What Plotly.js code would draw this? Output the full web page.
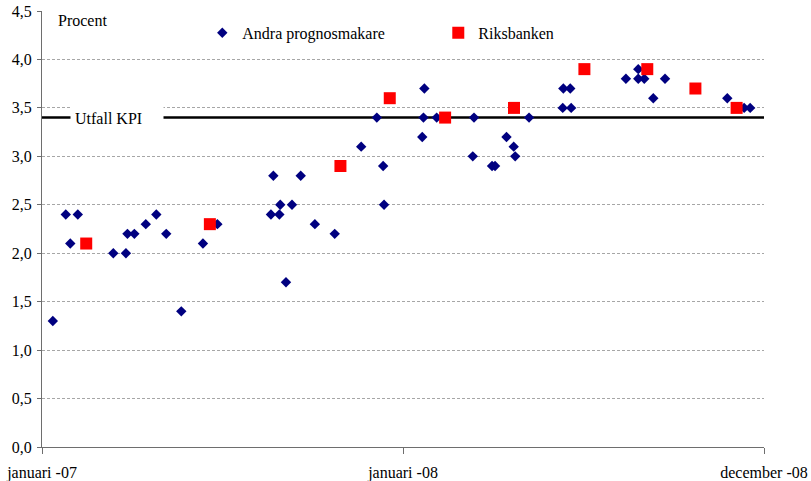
<!DOCTYPE html>
<html>
<head>
<meta charset="utf-8">
<script src="https://cdn.plot.ly/plotly-3.0.1.min.js"></script>
<style>
  html, body { margin: 0; padding: 0; background: #fff; }
  #chart { width: 811px; height: 481px; }
</style>
</head>
<body>
<div id="chart"></div>
<script>
// Forecast date, in months after January 2007 (0 = januari -07, 12 = januari -08, 24 = december -08)
const andraMonth = [0.36, 0.79, 0.94, 1.19, 2.37, 2.79, 2.84, 3.07, 3.45, 3.80, 4.13, 4.63,
  5.35, 5.83, 7.61, 7.69, 7.89, 7.92, 8.11, 8.31, 8.60, 9.07, 9.73, 10.61, 11.13, 11.34,
  11.37, 12.71, 12.68, 12.64, 13.12, 14.36, 14.32, 14.96, 15.06, 15.44, 15.68, 15.73, 16.19,
  17.33, 17.56, 17.31, 17.59, 19.41, 19.82, 19.82, 20.02, 20.32, 20.71, 22.78, 23.34, 23.54];
// Other forecasters' KPI forecast for 2008, percent
const andraValue = [1.3, 2.4, 2.1, 2.4, 2.0, 2.0, 2.2, 2.2, 2.3, 2.4, 2.2, 1.4,
  2.1, 2.3, 2.4, 2.8, 2.4, 2.5, 1.7, 2.5, 2.8, 2.3, 2.2, 3.1, 3.4, 2.9,
  2.5, 3.7, 3.4, 3.2, 3.4, 3.4, 3.0, 2.9, 2.9, 3.2, 3.1, 3.0, 3.4,
  3.7, 3.7, 3.5, 3.5, 3.8, 3.9, 3.8, 3.8, 3.6, 3.8, 3.6, 3.5, 3.5];

const riksMonth = [1.47, 5.58, 9.92, 11.56, 13.40, 15.69, 18.03, 20.12, 21.72, 23.09];
const riksValue = [2.1, 2.3, 2.9, 3.6, 3.4, 3.5, 3.9, 3.9, 3.7, 3.5];

// Actual KPI outcome
const utfallKPI = 3.4;

const xTickVals = [0, 12, 24];
const xTickText = ['januari -07', 'januari -08', 'december -08'];
const yTickVals = [0, 0.5, 1, 1.5, 2, 2.5, 3, 3.5, 4, 4.5];

const serif = 'Liberation Serif';

const traces = [
  {
    type: 'scatter', mode: 'markers', name: 'Andra prognosmakare',
    x: andraMonth, y: andraValue,
    marker: { symbol: 'diamond', size: 8, color: '#000080' },
    cliponaxis: false
  },
  {
    type: 'scatter', mode: 'markers', name: 'Riksbanken',
    x: riksMonth, y: riksValue,
    marker: { symbol: 'square', size: 12, color: '#ff0000' },
    cliponaxis: false
  }
];

const layout = {
  width: 811, height: 481,
  margin: { l: 42, r: 47, t: 11, b: 34, pad: 0 },
  paper_bgcolor: '#ffffff', plot_bgcolor: '#ffffff',
  separators: ', ',
  font: { family: serif, size: 16, color: '#000000' },
  showlegend: true,
  legend: {
    orientation: 'h', x: 0.222, y: 0.95, xanchor: 'left', yanchor: 'middle',
    entrywidth: 191, entrywidthmode: 'pixels',
    font: { family: serif, size: 16, color: '#000' },
    bgcolor: 'rgba(0,0,0,0)', itemclick: false
  },
  xaxis: {
    type: 'linear', range: [0, 24],
    tickvals: xTickVals, ticktext: xTickText,
    showgrid: false, zeroline: false,
    showline: true, linecolor: '#6e6e6e', linewidth: 1,
    ticks: 'outside', ticklen: 6, tickcolor: '#6e6e6e', ticklabelstandoff: 5,
    tickfont: { family: serif, size: 16, color: '#000' }
  },
  yaxis: {
    range: [0, 4.5], tickvals: yTickVals, tickformat: '.1f',
    showgrid: true, gridcolor: '#a6a6a6', gridwidth: 1, griddash: '3px,2px',
    zeroline: false,
    showline: true, linecolor: '#6e6e6e', linewidth: 1,
    ticks: 'outside', ticklen: 4, tickcolor: '#6e6e6e', ticklabelstandoff: 2,
    tickfont: { family: serif, size: 16, color: '#000' }
  },
  shapes: [
    {
      type: 'line', layer: 'between', xref: 'x', yref: 'y',
      x0: 0, x1: 24, y0: utfallKPI, y1: utfallKPI,
      line: { color: '#000000', width: 2.5 }
    }
  ],
  annotations: [
    {
      text: 'Utfall KPI', xref: 'x', yref: 'y', x: 2.48, y: utfallKPI,
      xanchor: 'center', yanchor: 'middle', showarrow: false,
      width: 84, height: 18, align: 'left', bgcolor: '#ffffff', borderpad: 4,
      font: { family: serif, size: 16, color: '#000' }
    },
    {
      text: 'Procent', xref: 'paper', yref: 'paper', x: 0.019, y: 0.979,
      xanchor: 'left', yanchor: 'middle', showarrow: false,
      font: { family: serif, size: 16, color: '#000' }
    }
  ]
};

Plotly.newPlot('chart', traces, layout, { staticPlot: true, displayModeBar: false });
</script>
</body>
</html>
